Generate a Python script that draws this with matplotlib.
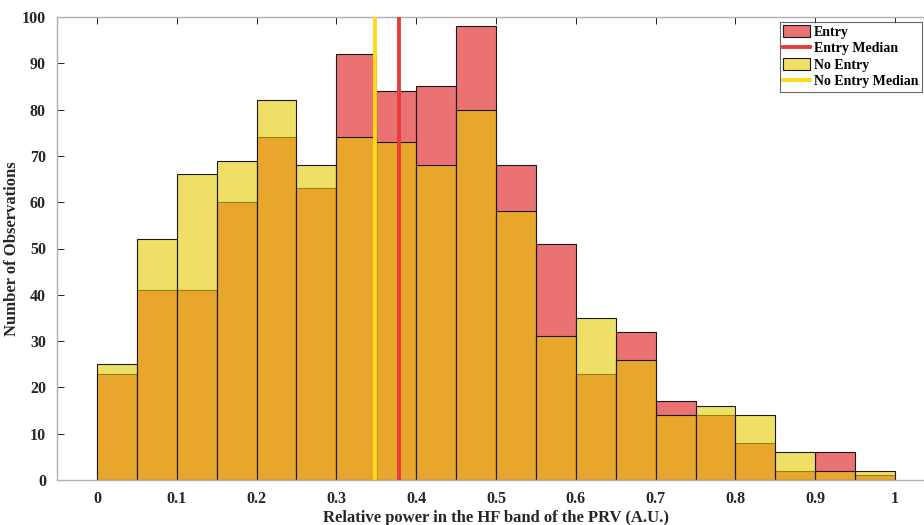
import numpy as np
import matplotlib
matplotlib.use("Agg")
from matplotlib import pyplot as plt

# histogram counts per 0.05 bin
bin_edges = np.round(np.arange(0, 1.0001, 0.05), 2)
entry_counts = [23, 41, 41, 60, 74, 63, 92, 84, 85, 98, 68, 51, 23, 32, 17, 14, 8, 2, 6, 1]
no_entry_counts = [25, 52, 66, 69, 82, 68, 74, 73, 68, 80, 58, 31, 35, 26, 14, 16, 14, 6, 2, 2]
entry_median = 0.378
no_entry_median = 0.349

x_ticks = np.round(np.arange(0, 1.01, 0.1), 1)
x_ticklabels = ['0', '0.1', '0.2', '0.3', '0.4', '0.5', '0.6', '0.7', '0.8', '0.9', '1']
y_ticks = np.arange(0, 101, 10)

plt.rcParams['font.family'] = ['Liberation Serif', 'DejaVu Serif']
plt.rcParams['font.weight'] = 'bold'

fig = plt.figure(figsize=(9.24, 5.25), dpi=100)
ax = fig.add_axes([57/924, 1-480/525, (935-57)/924, (480-17)/525])

red = (223/255, 20/255, 20/255)
yellow = (230/255, 202/255, 0)

widths = np.diff(bin_edges)
h_entry = ax.bar(bin_edges[:-1], entry_counts, width=widths, align='edge', color=red,
                 edgecolor='black', linewidth=0.8, label='Entry')
l_entry = ax.axvline(entry_median, color='#e83c3c', linewidth=2.8, label='Entry Median', zorder=5)
h_no = ax.bar(bin_edges[:-1], no_entry_counts, width=widths, align='edge', color=yellow,
              edgecolor='black', linewidth=0.8, label='No Entry')
l_no = ax.axvline(no_entry_median, color='#ffd91a', linewidth=2.8, label='No Entry Median', zorder=4)

# translucent faces, opaque edges like MATLAB
for p in ax.patches:
    fc = p.get_facecolor()
    p.set_facecolor((fc[0], fc[1], fc[2], 0.6))
    p.set_edgecolor((0.1, 0.1, 0.1, 1.0))

ax.set_xlim(-0.05, 1.05)
ax.set_ylim(0, 100)
ax.set_xticks(x_ticks)
ax.set_xticklabels(x_ticklabels)
ax.set_yticks(y_ticks)
ax.tick_params(direction='in', length=5, width=0.7, labelsize=11.5, colors='#262626',
               top=True, right=True, pad=8)
for s in ax.spines.values():
    s.set_color('#b0b0b0')
    s.set_linewidth(1.0)

ax.set_xlabel('Relative power in the HF band of the PRV (A.U.)', fontsize=12,
              fontweight='bold', color='#262626', labelpad=2)
ax.set_ylabel('Number of Observations', fontsize=12, fontweight='bold',
              color='#262626', labelpad=1)

leg = fig.legend([h_entry, l_entry, h_no, l_no],
                 ['Entry', 'Entry Median', 'No Entry', 'No Entry Median'],
                 loc='upper left', bbox_to_anchor=(780/924, 1-22/525), fontsize=10,
                 frameon=True, fancybox=False, borderaxespad=0, borderpad=0.25,
                 handlelength=1.9, handleheight=0.9, handletextpad=0.3, labelspacing=0.2)
leg.get_frame().set_edgecolor('#404040')
leg.get_frame().set_linewidth(0.8)

fig.savefig('out.png', dpi=100)
